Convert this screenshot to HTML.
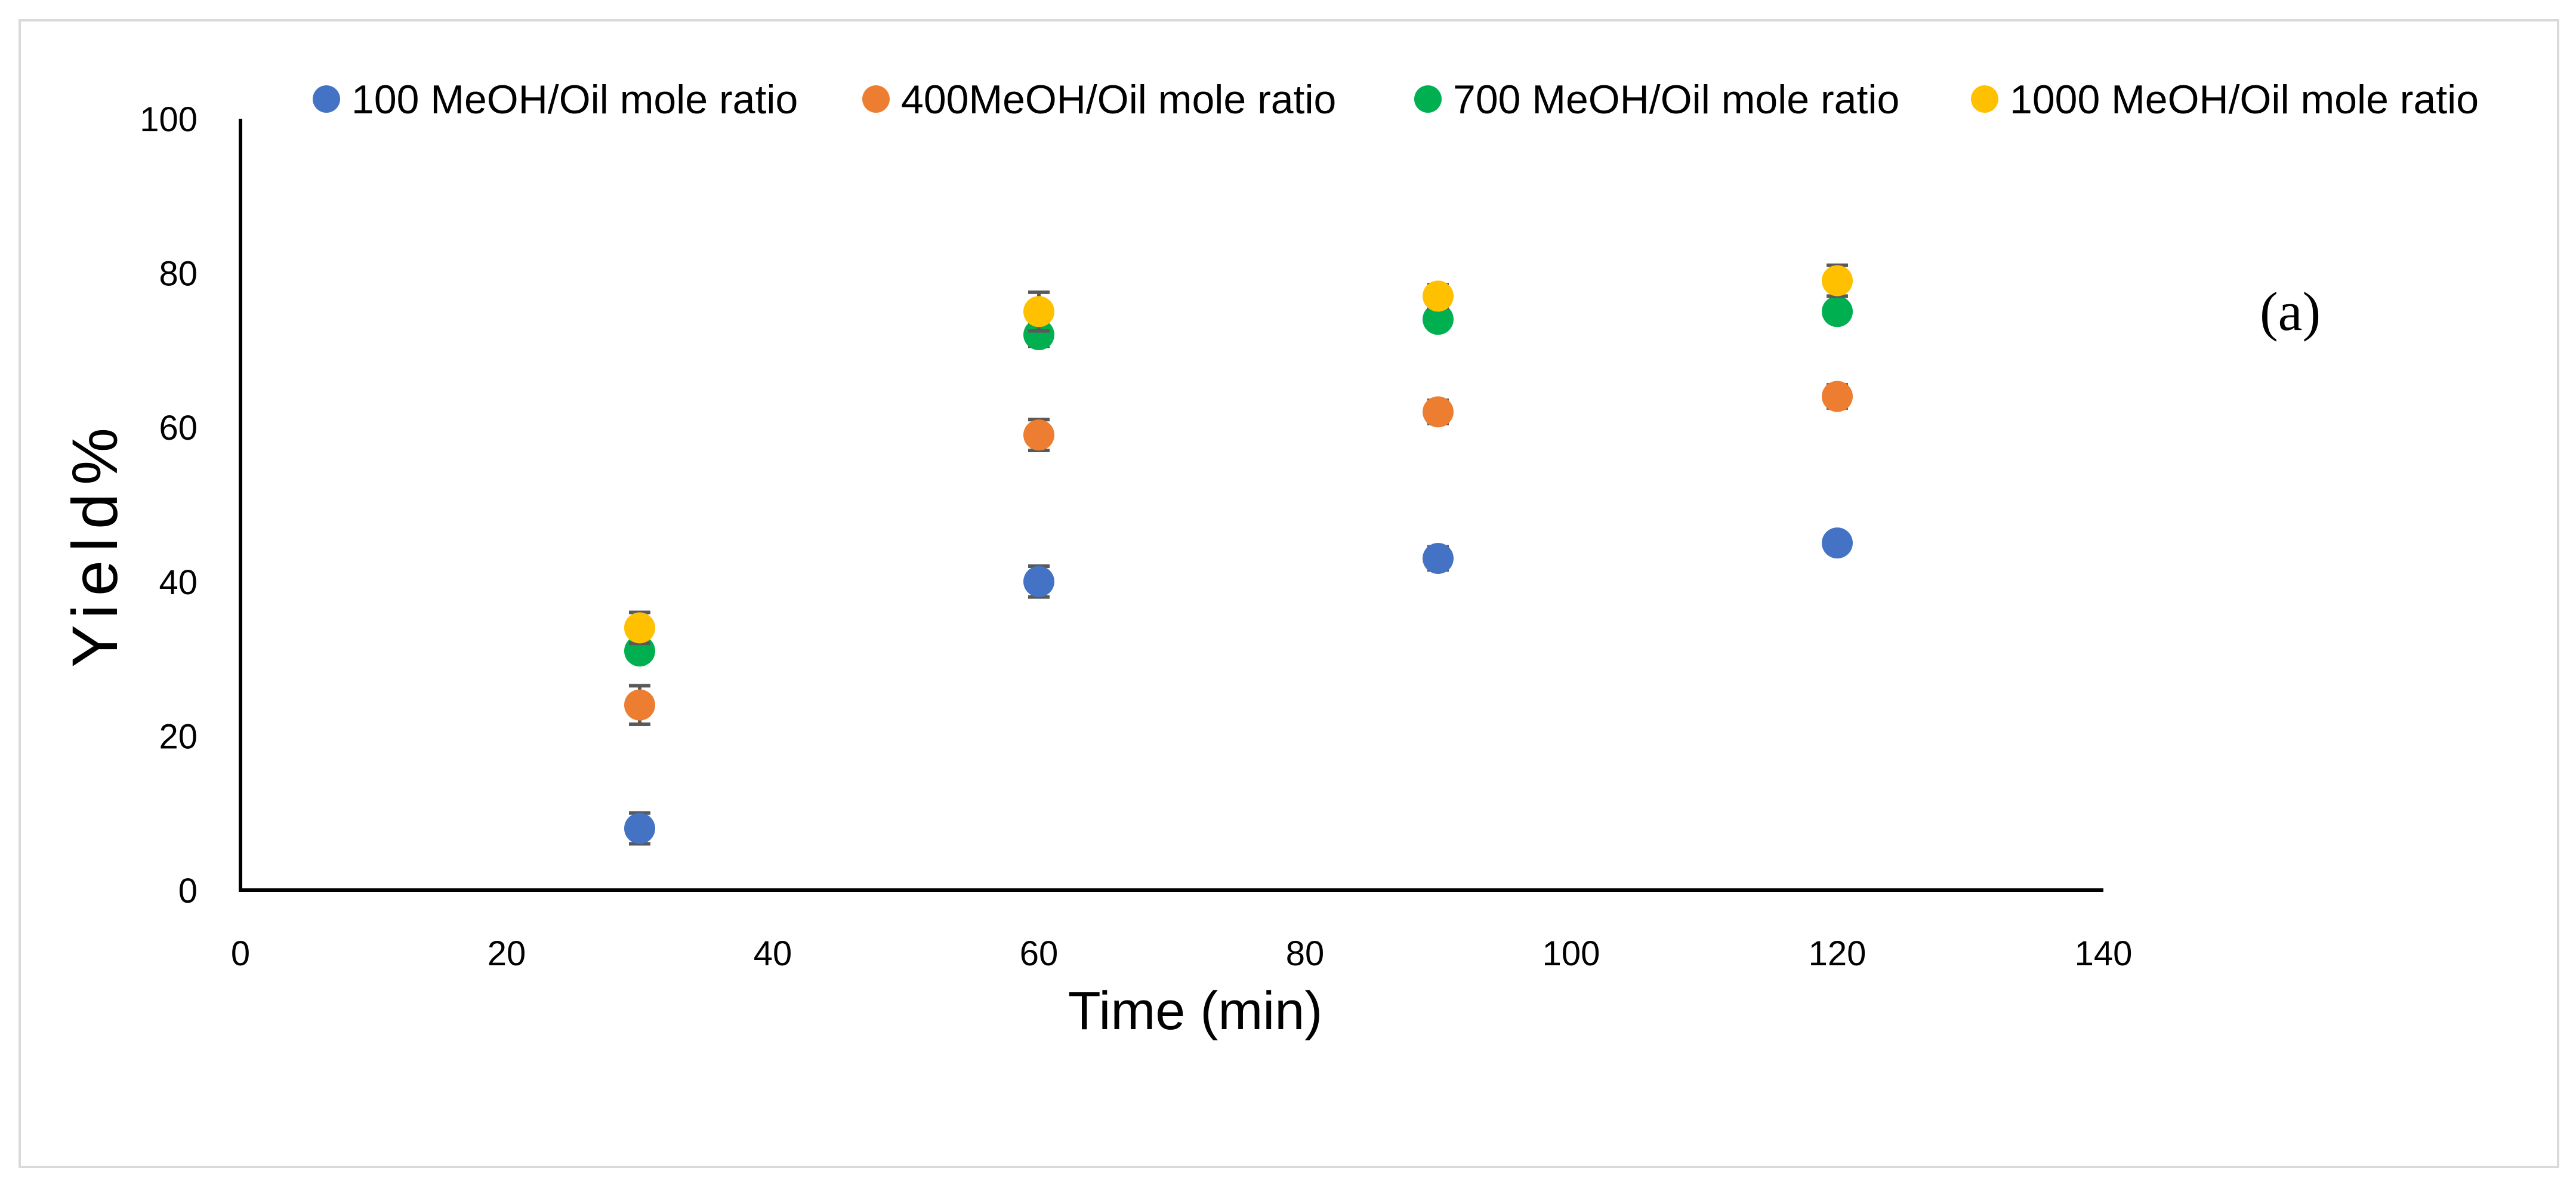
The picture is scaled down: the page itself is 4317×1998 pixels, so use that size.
<!DOCTYPE html>
<html><head><meta charset="utf-8"><style>
html,body{margin:0;padding:0;background:#fff;}
svg{display:block;}
text{font-family:"Liberation Sans",sans-serif;}
</style></head><body>
<svg id="chart" width="4317" height="1998" viewBox="0 0 4317 1998" xmlns="http://www.w3.org/2000/svg">
<rect x="33" y="34" width="4254" height="1922" fill="#fff" stroke="#d9d9d9" stroke-width="4"/>
<g id="plot"></g>
</svg>
<script>
const xTicks=[0,20,40,60,80,100,120,140];
const yTicks=[0,20,40,60,80,100];
const times=[30,60,90,120];
const seriesNames=["100 MeOH/Oil mole ratio","400MeOH/Oil mole ratio","700 MeOH/Oil mole ratio","1000 MeOH/Oil mole ratio"];
const s100=[8,40,43,45];
const s400=[24,59,62,64];
const s700=[31,72,74,75];
const s1000=[34,75,77,79];
const e100=[2,2,1.5,1];
const e400=[2.5,2,1.5,1.5];
const e700=[1,1.5,1,1];
const e1000=[2,2.5,1.5,2];
const colors=["#4472c4","#ed7d31","#00b050","#ffc000"];
const allS=[s100,s400,s700,s1000], allE=[e100,e400,e700,e1000];
const X0=403,X1=3525,Y0=1492,Y1=199;
const xs=v=>X0+(v-0)/(140-0)*(X1-X0);
const ys=v=>Y0-(v-0)/(100-0)*(Y0-Y1);
const NS="http://www.w3.org/2000/svg";
const g=document.getElementById('plot');
function mk(t,a,txt){const e=document.createElementNS(NS,t);for(const k in a)e.setAttribute(k,a[k]);if(txt!=null)e.textContent=txt;g.appendChild(e);return e;}
yTicks.forEach(v=>{const e=mk('text',{x:331,y:ys(v)+21,'text-anchor':'end','font-size':58,fill:'#000'},v);

});
xTicks.forEach(v=>{const e=mk('text',{x:xs(v),y:1618,'text-anchor':'middle','font-size':58,fill:'#000'},v);

});
let ax=mk('line',{x1:X0,y1:Y1,x2:X0,y2:Y0+3,stroke:'#000','stroke-width':6});


ax=mk('line',{x1:X0-3,y1:Y0,x2:X1,y2:Y0,stroke:'#000','stroke-width':6});


let t=mk('text',{x:2003,y:1725,'text-anchor':'middle','font-size':90,fill:'#000'},'Time (min)');


t=mk('text',{x:0,y:0,'text-anchor':'middle','font-size':108,'letter-spacing':14,fill:'#000',transform:'translate(196,911) rotate(-90)'},'Yield%');


t=mk('text',{x:3787,y:553,'font-size':92,fill:'#000',style:'font-family:"Liberation Serif",serif'},'(a)');


allS.forEach((s,i)=>{s.forEach((v,j)=>{
 const x=xs(times[j]),e=allE[i][j];
 const eb=mk('path',{d:`M${x} ${ys(v+e)}V${ys(v-e)}M${x-18} ${ys(v+e)}H${x+18}M${x-18} ${ys(v-e)}H${x+18}`,stroke:'#595959','stroke-width':6,fill:'none'});
 
 
 const c=mk('circle',{cx:x,cy:ys(v),r:26,fill:colors[i]});
 
 
});});
const legX=[547,1468,2393,3326];
seriesNames.forEach((n,i)=>{
 const c=mk('circle',{cx:legX[i],cy:166,r:23,fill:colors[i]});
 
 
 const tt=mk('text',{x:legX[i]+42,y:190,'font-size':68,fill:'#000'},n);
 
 
});
</script>
</body></html>
